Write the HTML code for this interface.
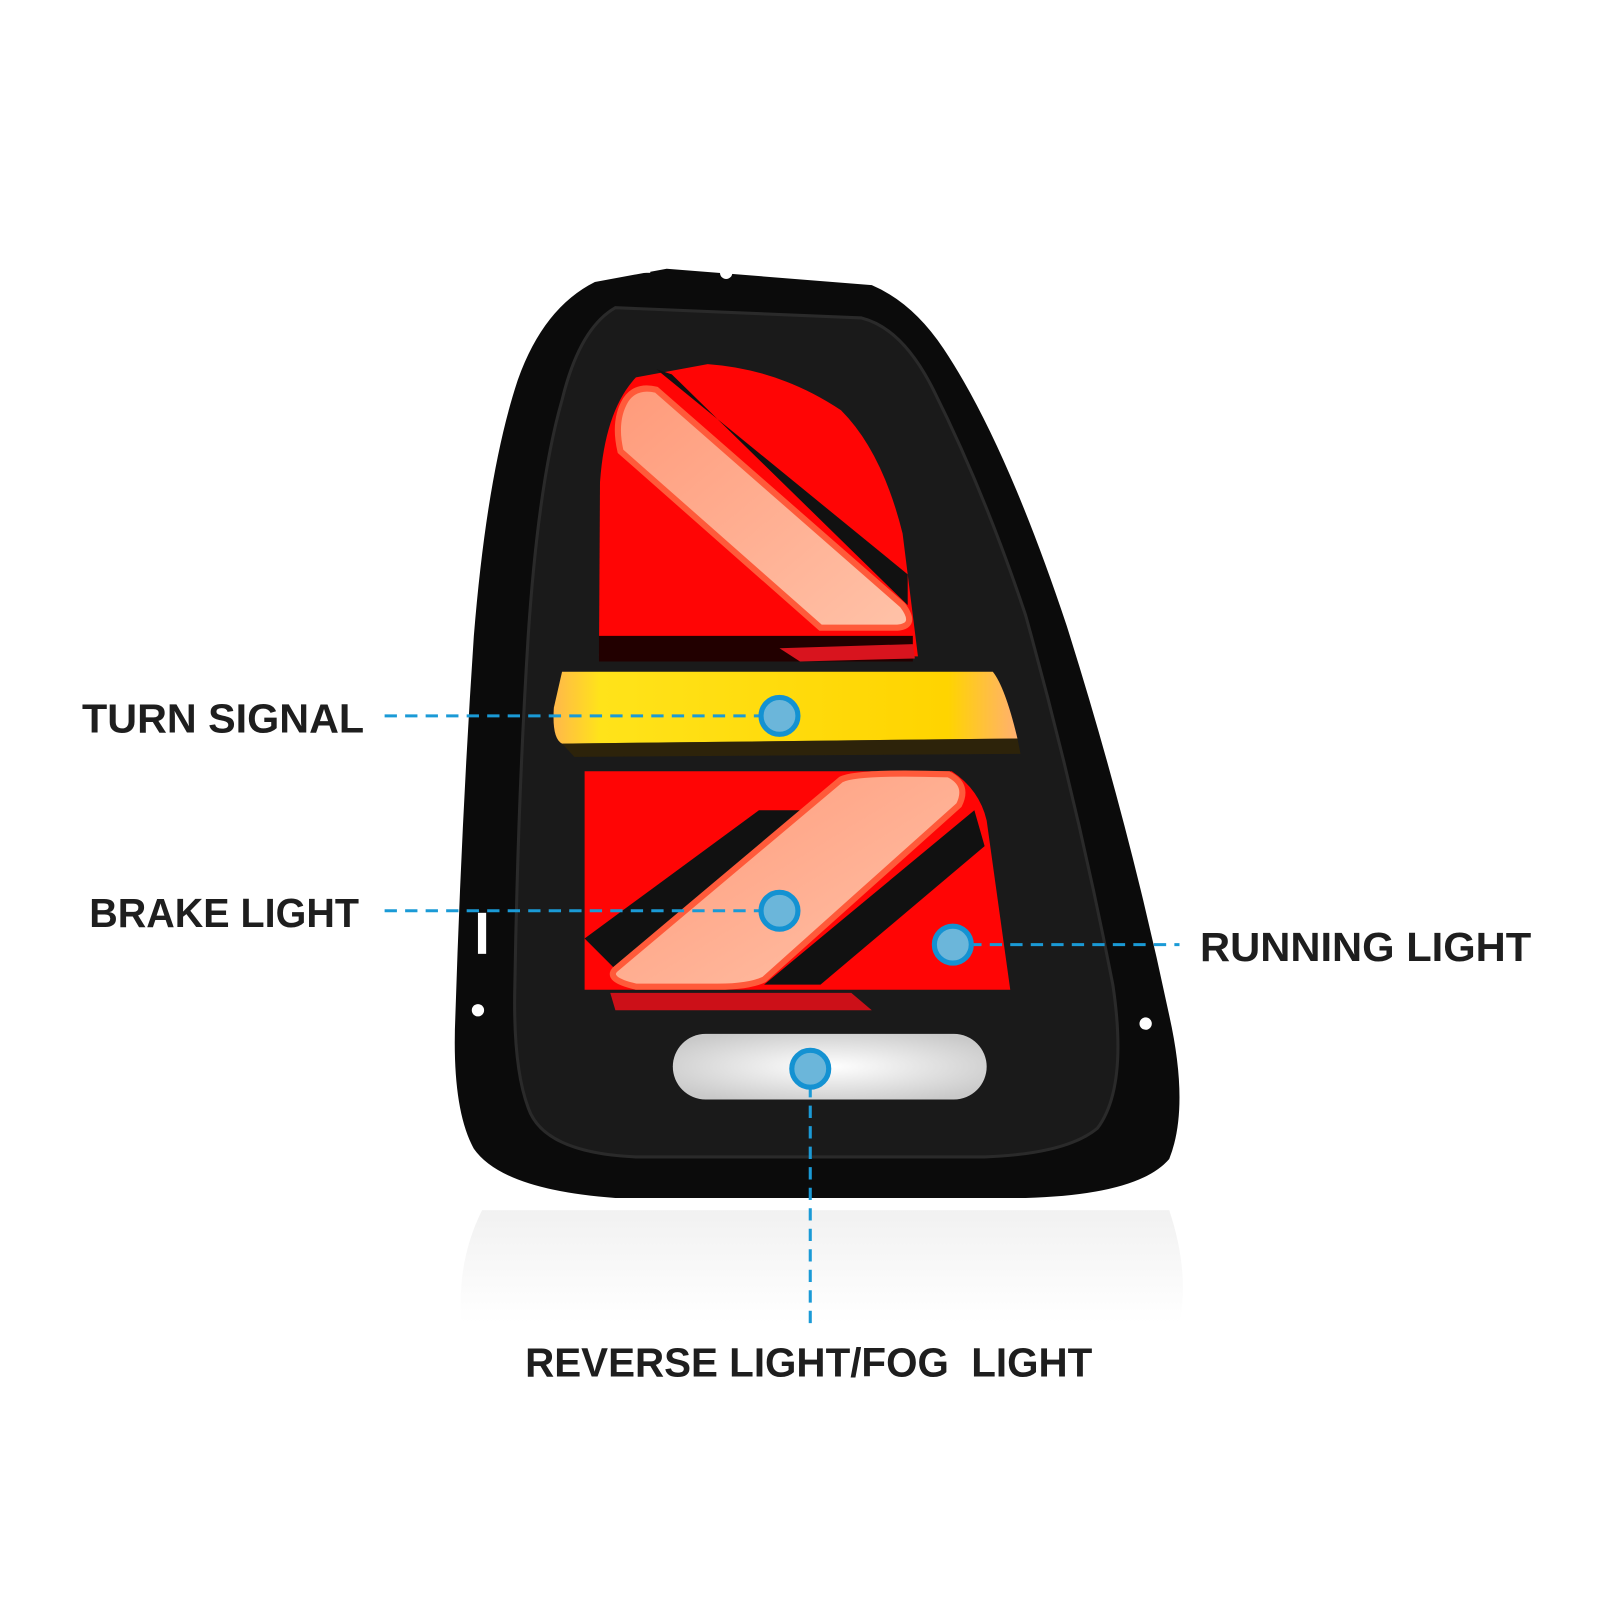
<!DOCTYPE html>
<html><head><meta charset="utf-8"><style>
html,body{margin:0;padding:0;background:#fff;}
svg{display:block;}
text{font-family:"Liberation Sans",sans-serif;font-weight:bold;fill:#1e1e1e;}
</style></head><body>
<svg width="1600" height="1600" viewBox="0 0 1560 1560" xmlns="http://www.w3.org/2000/svg">
<defs>
<linearGradient id="refl" x1="0" y1="0" x2="0" y2="1">
<stop offset="0" stop-color="#e8e8e8"/><stop offset="1" stop-color="#ffffff"/>
</linearGradient>
<linearGradient id="yel" x1="0" y1="0" x2="1" y2="0">
<stop offset="0" stop-color="#ffb84a"/><stop offset="0.1" stop-color="#ffe31a"/><stop offset="0.85" stop-color="#ffd400"/><stop offset="1" stop-color="#ffb070"/>
</linearGradient>
<linearGradient id="strip" x1="0" y1="0" x2="1" y2="1">
<stop offset="0" stop-color="#ff9a7a"/><stop offset="1" stop-color="#ffc2a8"/>
</linearGradient>
<radialGradient id="rev" cx="0.5" cy="0.5" r="0.6">
<stop offset="0" stop-color="#ffffff"/><stop offset="1" stop-color="#c9c9c9"/>
</radialGradient>
</defs>
<path d="M470 1180 L1140 1180 Q1160 1240 1150 1290 L450 1290 Q445 1230 470 1180 Z" fill="url(#refl)" opacity="0.6"/>
<!-- housing -->
<path d="M650 262 L850 278 Q890 295 920 340 Q980 430 1040 610 Q1100 800 1140 990 Q1160 1080 1140 1130 Q1110 1165 1000 1168 L600 1168 Q490 1160 462 1120 Q440 1080 444 990 Q450 800 462 620 Q475 460 505 370 Q530 300 580 275 Z" fill="#0b0b0b"/>
<g fill="#fff">
<rect x="585" y="258" width="12" height="10"/><rect x="603" y="258" width="12" height="10"/><rect x="622" y="256" width="12" height="10"/>
<circle cx="708" cy="266" r="6"/>
<rect x="470" y="440" width="10" height="30"/><rect x="466" y="890" width="8" height="40"/>
<circle cx="466" cy="985" r="6"/><circle cx="1117" cy="998" r="6"/>
</g>
<path d="M600 300 L840 310 Q880 320 910 380 Q960 480 1000 600 Q1050 780 1085 960 Q1100 1060 1070 1100 Q1040 1125 960 1128 L620 1128 Q530 1124 515 1080 Q500 1040 502 960 Q505 780 515 620 Q525 470 548 390 Q565 320 600 300 Z" fill="#1a1a1a" stroke="#2a2a2a" stroke-width="3"/>
<!-- top red -->
<path d="M584 640 L585 470 Q590 400 620 368 L690 355 Q760 360 820 400 Q860 440 880 520 L895 640 Z" fill="#ff0505"/>
<path d="M640 360 L885 560 L885 590 L655 365 Z" fill="#111"/>
<path d="M610 390 Q620 375 640 380 L880 590 Q895 610 875 612 L800 612 L605 440 Q598 410 610 390 Z" fill="url(#strip)" stroke="#ff5a3a" stroke-width="6"/>
<path d="M584 620 L890 620 L890 645 L584 645 Z" fill="#220000"/>
<path d="M760 632 L890 628 L892 642 L780 645 Z" fill="#d8141e"/>
<!-- turn signal -->
<path d="M548 655 L968 655 Q980 670 992 720 L548 725 Q538 720 540 690 Z" fill="url(#yel)"/>
<path d="M548 725 L992 720 L995 735 L560 738 Z" fill="#3a2a00" opacity="0.6"/>
<!-- lower red -->
<path d="M570 752 L928 752 Q955 770 962 800 L985 965 L570 965 Z" fill="#ff0505"/>
<path d="M570 915 L740 790 L790 790 L600 945 Z" fill="#111"/>
<path d="M600 945 L820 760 Q835 752 925 755 Q945 765 935 785 L745 955 Q730 962 700 962 L620 962 Q590 955 600 945 Z" fill="url(#strip)" stroke="#ff5a3a" stroke-width="6"/>
<path d="M745 960 L950 790 L960 825 L800 960 Z" fill="#111"/>
<path d="M595 968 L830 968 L850 985 L600 985 Z" fill="#cc1018"/>
<rect x="656" y="1008" width="306" height="64" rx="32" fill="url(#rev)"/>
<g stroke="#1a9ad6" stroke-width="3" stroke-dasharray="12 8" fill="none">
<line x1="375" y1="698" x2="745" y2="698"/>
<line x1="375" y1="888" x2="745" y2="888"/>
<line x1="945" y1="921" x2="1150" y2="921"/>
<line x1="790" y1="1058" x2="790" y2="1292"/>
</g>
<g fill="#6bb6da" stroke="#1492d2" stroke-width="5">
<circle cx="760" cy="698" r="18"/>
<circle cx="760" cy="888" r="18"/>
<circle cx="929" cy="921" r="18"/>
<circle cx="790" cy="1042" r="18"/>
</g>
<text x="80" y="714" font-size="40" textLength="275" lengthAdjust="spacingAndGlyphs">TURN SIGNAL</text>
<text x="87" y="904" font-size="40" textLength="263" lengthAdjust="spacingAndGlyphs">BRAKE LIGHT</text>
<text x="1170" y="937" font-size="40" textLength="323" lengthAdjust="spacingAndGlyphs">RUNNING LIGHT</text>
<text x="512" y="1342" font-size="40" textLength="553" lengthAdjust="spacingAndGlyphs" xml:space="preserve">REVERSE LIGHT/FOG  LIGHT</text>
</svg>
</body></html>
